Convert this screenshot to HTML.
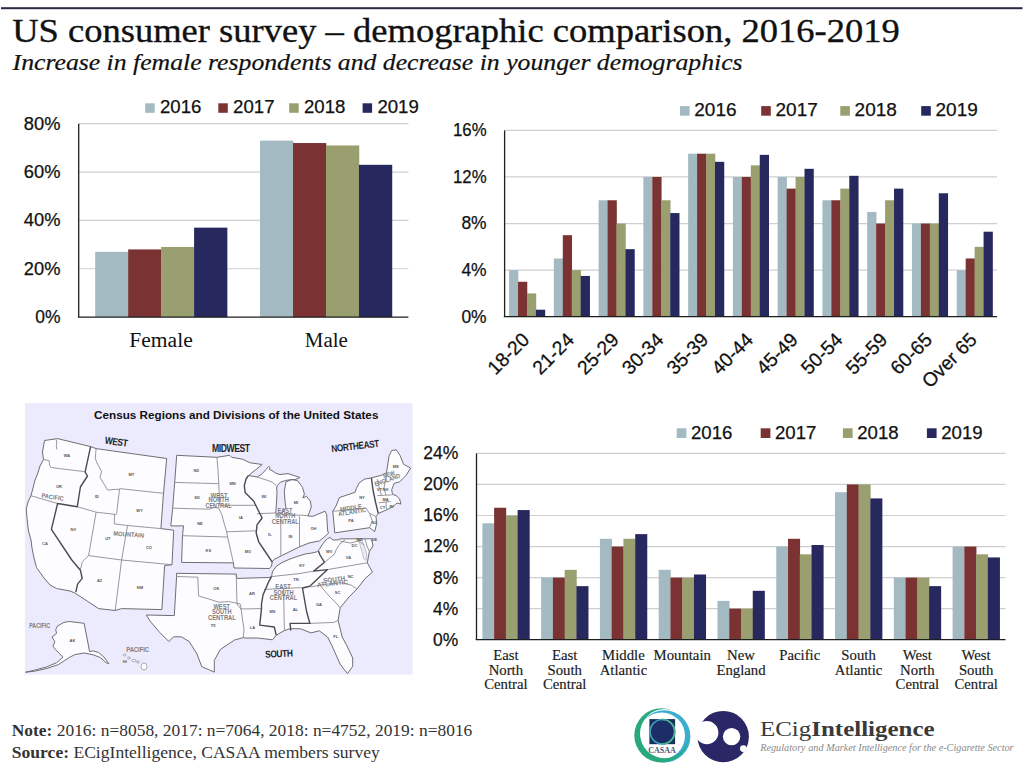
<!DOCTYPE html><html><head><meta charset="utf-8"><style>
html,body{margin:0;padding:0;background:#fff;}
#p{position:relative;width:1024px;height:765px;overflow:hidden;background:#fff;}
svg{position:absolute;left:0;top:0;}
</style></head><body><div id="p">
<svg width="1024" height="765" viewBox="0 0 1024 765">
<rect x="1" y="7.2" width="1021.5" height="2" fill="#2a2945"/>
<text x="12.2" y="42.4" font-family="'Liberation Serif', serif" font-size="34.2" text-anchor="start" fill="#111" font-weight="normal" font-style="normal" textLength="887.5" lengthAdjust="spacingAndGlyphs" stroke="#111" stroke-width="0.35">US consumer survey – demographic comparison, 2016-2019</text>
<text x="12.6" y="69.6" font-family="'Liberation Serif', serif" font-size="22.4" text-anchor="start" fill="#111" font-weight="normal" font-style="italic" textLength="730" lengthAdjust="spacingAndGlyphs" stroke="#111" stroke-width="0.2">Increase in female respondents and decrease in younger demographics</text>
<line x1="78.7" y1="268.75" x2="408.4" y2="268.75" stroke="#cfcfcf" stroke-width="1.2"/>
<line x1="78.7" y1="220.40" x2="408.4" y2="220.40" stroke="#cfcfcf" stroke-width="1.2"/>
<line x1="78.7" y1="172.05" x2="408.4" y2="172.05" stroke="#cfcfcf" stroke-width="1.2"/>
<line x1="78.7" y1="123.70" x2="408.4" y2="123.70" stroke="#cfcfcf" stroke-width="1.2"/>
<rect x="95.19" y="251.83" width="33.27" height="65.27" fill="#a3bac3"/>
<rect x="128.16" y="249.41" width="33.27" height="67.69" fill="#7b3232"/>
<rect x="161.12" y="246.99" width="33.27" height="70.11" fill="#999f6e"/>
<rect x="194.09" y="227.65" width="33.27" height="89.45" fill="#27285e"/>
<rect x="260.04" y="140.62" width="33.27" height="176.48" fill="#a3bac3"/>
<rect x="293.00" y="143.04" width="33.27" height="174.06" fill="#7b3232"/>
<rect x="325.98" y="145.46" width="33.27" height="171.64" fill="#999f6e"/>
<rect x="358.95" y="164.80" width="33.27" height="152.30" fill="#27285e"/>
<line x1="78.7" y1="123.7" x2="78.7" y2="317.1" stroke="#1e1e1e" stroke-width="1.3"/>
<line x1="77.9" y1="317.1" x2="408.4" y2="317.1" stroke="#1e1e1e" stroke-width="1.3"/>
<text x="60.4" y="323.0" font-family="'Liberation Sans', sans-serif" font-size="18.6" text-anchor="end" fill="#111" font-weight="normal" font-style="normal" textLength="25.2" lengthAdjust="spacingAndGlyphs" stroke="#111" stroke-width="0.25">0%</text>
<text x="60.4" y="274.65" font-family="'Liberation Sans', sans-serif" font-size="18.6" text-anchor="end" fill="#111" font-weight="normal" font-style="normal" textLength="36.6" lengthAdjust="spacingAndGlyphs" stroke="#111" stroke-width="0.25">20%</text>
<text x="60.4" y="226.3" font-family="'Liberation Sans', sans-serif" font-size="18.6" text-anchor="end" fill="#111" font-weight="normal" font-style="normal" textLength="36.6" lengthAdjust="spacingAndGlyphs" stroke="#111" stroke-width="0.25">40%</text>
<text x="60.4" y="177.95" font-family="'Liberation Sans', sans-serif" font-size="18.6" text-anchor="end" fill="#111" font-weight="normal" font-style="normal" textLength="36.6" lengthAdjust="spacingAndGlyphs" stroke="#111" stroke-width="0.25">60%</text>
<text x="60.4" y="129.6" font-family="'Liberation Sans', sans-serif" font-size="18.6" text-anchor="end" fill="#111" font-weight="normal" font-style="normal" textLength="36.6" lengthAdjust="spacingAndGlyphs" stroke="#111" stroke-width="0.25">80%</text>
<rect x="145.2" y="103.3" width="9.5" height="9.5" fill="#a3bac3"/>
<text x="160.0" y="113.4" font-family="'Liberation Sans', sans-serif" font-size="18.6" text-anchor="start" fill="#111" font-weight="normal" font-style="normal" textLength="41.4" lengthAdjust="spacingAndGlyphs" stroke="#111" stroke-width="0.25">2016</text>
<rect x="218.3" y="103.3" width="9.5" height="9.5" fill="#7b3232"/>
<text x="233.10000000000002" y="113.4" font-family="'Liberation Sans', sans-serif" font-size="18.6" text-anchor="start" fill="#111" font-weight="normal" font-style="normal" textLength="41.4" lengthAdjust="spacingAndGlyphs" stroke="#111" stroke-width="0.25">2017</text>
<rect x="289.2" y="103.3" width="9.5" height="9.5" fill="#999f6e"/>
<text x="304.0" y="113.4" font-family="'Liberation Sans', sans-serif" font-size="18.6" text-anchor="start" fill="#111" font-weight="normal" font-style="normal" textLength="41.4" lengthAdjust="spacingAndGlyphs" stroke="#111" stroke-width="0.25">2018</text>
<rect x="362.6" y="103.3" width="9.5" height="9.5" fill="#27285e"/>
<text x="377.40000000000003" y="113.4" font-family="'Liberation Sans', sans-serif" font-size="18.6" text-anchor="start" fill="#111" font-weight="normal" font-style="normal" textLength="41.4" lengthAdjust="spacingAndGlyphs" stroke="#111" stroke-width="0.25">2019</text>
<text x="161" y="346.7" font-family="'Liberation Serif', serif" font-size="20" text-anchor="middle" fill="#111" font-weight="normal" font-style="normal" textLength="63.4" lengthAdjust="spacingAndGlyphs" >Female</text>
<text x="326.3" y="346.7" font-family="'Liberation Serif', serif" font-size="20" text-anchor="middle" fill="#111" font-weight="normal" font-style="normal" textLength="43" lengthAdjust="spacingAndGlyphs" >Male</text>
<line x1="504.6" y1="270.12" x2="997" y2="270.12" stroke="#cfcfcf" stroke-width="1.2"/>
<line x1="504.6" y1="223.55" x2="997" y2="223.55" stroke="#cfcfcf" stroke-width="1.2"/>
<line x1="504.6" y1="176.97" x2="997" y2="176.97" stroke="#cfcfcf" stroke-width="1.2"/>
<line x1="504.6" y1="130.40" x2="997" y2="130.40" stroke="#cfcfcf" stroke-width="1.2"/>
<rect x="509.08" y="270.12" width="9.25" height="46.57" fill="#a3bac3"/>
<rect x="518.03" y="281.77" width="9.25" height="34.93" fill="#7b3232"/>
<rect x="526.98" y="293.41" width="9.25" height="23.29" fill="#999f6e"/>
<rect x="535.93" y="309.71" width="9.25" height="6.99" fill="#27285e"/>
<rect x="553.84" y="258.48" width="9.25" height="58.22" fill="#a3bac3"/>
<rect x="562.79" y="235.19" width="9.25" height="81.51" fill="#7b3232"/>
<rect x="571.75" y="270.12" width="9.25" height="46.57" fill="#999f6e"/>
<rect x="580.70" y="275.95" width="9.25" height="40.75" fill="#27285e"/>
<rect x="598.60" y="200.26" width="9.25" height="116.44" fill="#a3bac3"/>
<rect x="607.56" y="200.26" width="9.25" height="116.44" fill="#7b3232"/>
<rect x="616.51" y="223.55" width="9.25" height="93.15" fill="#999f6e"/>
<rect x="625.46" y="249.17" width="9.25" height="67.53" fill="#27285e"/>
<rect x="643.37" y="176.97" width="9.25" height="139.72" fill="#a3bac3"/>
<rect x="652.32" y="176.97" width="9.25" height="139.72" fill="#7b3232"/>
<rect x="661.27" y="200.26" width="9.25" height="116.44" fill="#999f6e"/>
<rect x="670.23" y="213.07" width="9.25" height="103.63" fill="#27285e"/>
<rect x="688.13" y="153.69" width="9.25" height="163.01" fill="#a3bac3"/>
<rect x="697.08" y="153.69" width="9.25" height="163.01" fill="#7b3232"/>
<rect x="706.04" y="153.69" width="9.25" height="163.01" fill="#999f6e"/>
<rect x="714.99" y="161.84" width="9.25" height="154.86" fill="#27285e"/>
<rect x="732.89" y="176.97" width="9.25" height="139.72" fill="#a3bac3"/>
<rect x="741.85" y="176.97" width="9.25" height="139.72" fill="#7b3232"/>
<rect x="750.80" y="165.33" width="9.25" height="151.37" fill="#999f6e"/>
<rect x="759.75" y="154.85" width="9.25" height="161.85" fill="#27285e"/>
<rect x="777.66" y="176.97" width="9.25" height="139.72" fill="#a3bac3"/>
<rect x="786.61" y="188.62" width="9.25" height="128.08" fill="#7b3232"/>
<rect x="795.56" y="176.97" width="9.25" height="139.72" fill="#999f6e"/>
<rect x="804.52" y="168.82" width="9.25" height="147.88" fill="#27285e"/>
<rect x="822.42" y="200.26" width="9.25" height="116.44" fill="#a3bac3"/>
<rect x="831.37" y="200.26" width="9.25" height="116.44" fill="#7b3232"/>
<rect x="840.33" y="188.62" width="9.25" height="128.08" fill="#999f6e"/>
<rect x="849.28" y="175.81" width="9.25" height="140.89" fill="#27285e"/>
<rect x="867.19" y="211.91" width="9.25" height="104.79" fill="#a3bac3"/>
<rect x="876.14" y="223.55" width="9.25" height="93.15" fill="#7b3232"/>
<rect x="885.09" y="200.26" width="9.25" height="116.44" fill="#999f6e"/>
<rect x="894.04" y="188.62" width="9.25" height="128.08" fill="#27285e"/>
<rect x="911.95" y="223.55" width="9.25" height="93.15" fill="#a3bac3"/>
<rect x="920.90" y="223.55" width="9.25" height="93.15" fill="#7b3232"/>
<rect x="929.85" y="223.55" width="9.25" height="93.15" fill="#999f6e"/>
<rect x="938.81" y="193.28" width="9.25" height="123.42" fill="#27285e"/>
<rect x="956.71" y="270.12" width="9.25" height="46.57" fill="#a3bac3"/>
<rect x="965.67" y="258.48" width="9.25" height="58.22" fill="#7b3232"/>
<rect x="974.62" y="246.84" width="9.25" height="69.86" fill="#999f6e"/>
<rect x="983.57" y="231.70" width="9.25" height="85.00" fill="#27285e"/>
<line x1="504.6" y1="130.4" x2="504.6" y2="316.7" stroke="#1e1e1e" stroke-width="1.3"/>
<line x1="503.8" y1="316.7" x2="997" y2="316.7" stroke="#1e1e1e" stroke-width="1.3"/>
<text x="486.6" y="322.6" font-family="'Liberation Sans', sans-serif" font-size="18.6" text-anchor="end" fill="#111" font-weight="normal" font-style="normal" textLength="25.2" lengthAdjust="spacingAndGlyphs" stroke="#111" stroke-width="0.25">0%</text>
<text x="486.6" y="276.02" font-family="'Liberation Sans', sans-serif" font-size="18.6" text-anchor="end" fill="#111" font-weight="normal" font-style="normal" textLength="25.2" lengthAdjust="spacingAndGlyphs" stroke="#111" stroke-width="0.25">4%</text>
<text x="486.6" y="229.45" font-family="'Liberation Sans', sans-serif" font-size="18.6" text-anchor="end" fill="#111" font-weight="normal" font-style="normal" textLength="25.2" lengthAdjust="spacingAndGlyphs" stroke="#111" stroke-width="0.25">8%</text>
<text x="486.6" y="182.88" font-family="'Liberation Sans', sans-serif" font-size="18.6" text-anchor="end" fill="#111" font-weight="normal" font-style="normal" textLength="33.6" lengthAdjust="spacingAndGlyphs" stroke="#111" stroke-width="0.25">12%</text>
<text x="486.6" y="136.3" font-family="'Liberation Sans', sans-serif" font-size="18.6" text-anchor="end" fill="#111" font-weight="normal" font-style="normal" textLength="33.6" lengthAdjust="spacingAndGlyphs" stroke="#111" stroke-width="0.25">16%</text>
<rect x="680" y="106.1" width="9.6" height="9.6" fill="#a3bac3"/>
<text x="694.3" y="116.1" font-family="'Liberation Sans', sans-serif" font-size="18.6" text-anchor="start" fill="#111" font-weight="normal" font-style="normal" textLength="42.3" lengthAdjust="spacingAndGlyphs" stroke="#111" stroke-width="0.25">2016</text>
<rect x="761.2" y="106.1" width="9.6" height="9.6" fill="#7b3232"/>
<text x="775.5" y="116.1" font-family="'Liberation Sans', sans-serif" font-size="18.6" text-anchor="start" fill="#111" font-weight="normal" font-style="normal" textLength="42.3" lengthAdjust="spacingAndGlyphs" stroke="#111" stroke-width="0.25">2017</text>
<rect x="840.3" y="106.1" width="9.6" height="9.6" fill="#999f6e"/>
<text x="854.5999999999999" y="116.1" font-family="'Liberation Sans', sans-serif" font-size="18.6" text-anchor="start" fill="#111" font-weight="normal" font-style="normal" textLength="42.3" lengthAdjust="spacingAndGlyphs" stroke="#111" stroke-width="0.25">2018</text>
<rect x="921.2" y="106.1" width="9.6" height="9.6" fill="#27285e"/>
<text x="935.5" y="116.1" font-family="'Liberation Sans', sans-serif" font-size="18.6" text-anchor="start" fill="#111" font-weight="normal" font-style="normal" textLength="42.3" lengthAdjust="spacingAndGlyphs" stroke="#111" stroke-width="0.25">2019</text>
<text transform="translate(530.48,341) rotate(-45)" x="0" y="0" font-family="'Liberation Sans', sans-serif" font-size="19.5" text-anchor="end" fill="#111" textLength="49.3" lengthAdjust="spacingAndGlyphs" stroke="#111" stroke-width="0.25">18-20</text>
<text transform="translate(575.25,341) rotate(-45)" x="0" y="0" font-family="'Liberation Sans', sans-serif" font-size="19.5" text-anchor="end" fill="#111" textLength="49.3" lengthAdjust="spacingAndGlyphs" stroke="#111" stroke-width="0.25">21-24</text>
<text transform="translate(620.01,341) rotate(-45)" x="0" y="0" font-family="'Liberation Sans', sans-serif" font-size="19.5" text-anchor="end" fill="#111" textLength="49.3" lengthAdjust="spacingAndGlyphs" stroke="#111" stroke-width="0.25">25-29</text>
<text transform="translate(664.77,341) rotate(-45)" x="0" y="0" font-family="'Liberation Sans', sans-serif" font-size="19.5" text-anchor="end" fill="#111" textLength="49.3" lengthAdjust="spacingAndGlyphs" stroke="#111" stroke-width="0.25">30-34</text>
<text transform="translate(709.54,341) rotate(-45)" x="0" y="0" font-family="'Liberation Sans', sans-serif" font-size="19.5" text-anchor="end" fill="#111" textLength="49.3" lengthAdjust="spacingAndGlyphs" stroke="#111" stroke-width="0.25">35-39</text>
<text transform="translate(754.30,341) rotate(-45)" x="0" y="0" font-family="'Liberation Sans', sans-serif" font-size="19.5" text-anchor="end" fill="#111" textLength="49.3" lengthAdjust="spacingAndGlyphs" stroke="#111" stroke-width="0.25">40-44</text>
<text transform="translate(799.06,341) rotate(-45)" x="0" y="0" font-family="'Liberation Sans', sans-serif" font-size="19.5" text-anchor="end" fill="#111" textLength="49.3" lengthAdjust="spacingAndGlyphs" stroke="#111" stroke-width="0.25">45-49</text>
<text transform="translate(843.83,341) rotate(-45)" x="0" y="0" font-family="'Liberation Sans', sans-serif" font-size="19.5" text-anchor="end" fill="#111" textLength="49.3" lengthAdjust="spacingAndGlyphs" stroke="#111" stroke-width="0.25">50-54</text>
<text transform="translate(888.59,341) rotate(-45)" x="0" y="0" font-family="'Liberation Sans', sans-serif" font-size="19.5" text-anchor="end" fill="#111" textLength="49.3" lengthAdjust="spacingAndGlyphs" stroke="#111" stroke-width="0.25">55-59</text>
<text transform="translate(933.35,341) rotate(-45)" x="0" y="0" font-family="'Liberation Sans', sans-serif" font-size="19.5" text-anchor="end" fill="#111" textLength="49.3" lengthAdjust="spacingAndGlyphs" stroke="#111" stroke-width="0.25">60-65</text>
<text transform="translate(978.12,341) rotate(-45)" x="0" y="0" font-family="'Liberation Sans', sans-serif" font-size="19.5" text-anchor="end" fill="#111" textLength="68" lengthAdjust="spacingAndGlyphs" stroke="#111" stroke-width="0.25">Over 65</text>
<line x1="476.5" y1="608.65" x2="1005.5" y2="608.65" stroke="#cfcfcf" stroke-width="1.2"/>
<line x1="476.5" y1="577.60" x2="1005.5" y2="577.60" stroke="#cfcfcf" stroke-width="1.2"/>
<line x1="476.5" y1="546.55" x2="1005.5" y2="546.55" stroke="#cfcfcf" stroke-width="1.2"/>
<line x1="476.5" y1="515.50" x2="1005.5" y2="515.50" stroke="#cfcfcf" stroke-width="1.2"/>
<line x1="476.5" y1="484.45" x2="1005.5" y2="484.45" stroke="#cfcfcf" stroke-width="1.2"/>
<line x1="476.5" y1="453.40" x2="1005.5" y2="453.40" stroke="#cfcfcf" stroke-width="1.2"/>
<rect x="482.38" y="523.26" width="12.06" height="116.44" fill="#a3bac3"/>
<rect x="494.13" y="507.74" width="12.06" height="131.96" fill="#7b3232"/>
<rect x="505.89" y="515.50" width="12.06" height="124.20" fill="#999f6e"/>
<rect x="517.64" y="510.07" width="12.06" height="129.63" fill="#27285e"/>
<rect x="541.16" y="577.60" width="12.06" height="62.10" fill="#a3bac3"/>
<rect x="552.91" y="577.60" width="12.06" height="62.10" fill="#7b3232"/>
<rect x="564.67" y="569.84" width="12.06" height="69.86" fill="#999f6e"/>
<rect x="576.42" y="586.14" width="12.06" height="53.56" fill="#27285e"/>
<rect x="599.93" y="538.79" width="12.06" height="100.91" fill="#a3bac3"/>
<rect x="611.69" y="546.55" width="12.06" height="93.15" fill="#7b3232"/>
<rect x="623.44" y="538.79" width="12.06" height="100.91" fill="#999f6e"/>
<rect x="635.20" y="534.13" width="12.06" height="105.57" fill="#27285e"/>
<rect x="658.71" y="569.84" width="12.06" height="69.86" fill="#a3bac3"/>
<rect x="670.47" y="577.60" width="12.06" height="62.10" fill="#7b3232"/>
<rect x="682.22" y="577.60" width="12.06" height="62.10" fill="#999f6e"/>
<rect x="693.98" y="574.50" width="12.06" height="65.21" fill="#27285e"/>
<rect x="717.49" y="600.89" width="12.06" height="38.81" fill="#a3bac3"/>
<rect x="729.24" y="608.65" width="12.06" height="31.05" fill="#7b3232"/>
<rect x="741.00" y="608.65" width="12.06" height="31.05" fill="#999f6e"/>
<rect x="752.76" y="590.80" width="12.06" height="48.90" fill="#27285e"/>
<rect x="776.27" y="546.55" width="12.06" height="93.15" fill="#a3bac3"/>
<rect x="788.02" y="538.79" width="12.06" height="100.91" fill="#7b3232"/>
<rect x="799.78" y="554.31" width="12.06" height="85.39" fill="#999f6e"/>
<rect x="811.53" y="545.00" width="12.06" height="94.70" fill="#27285e"/>
<rect x="835.04" y="492.21" width="12.06" height="147.49" fill="#a3bac3"/>
<rect x="846.80" y="484.45" width="12.06" height="155.25" fill="#7b3232"/>
<rect x="858.56" y="484.45" width="12.06" height="155.25" fill="#999f6e"/>
<rect x="870.31" y="498.42" width="12.06" height="141.28" fill="#27285e"/>
<rect x="893.82" y="577.60" width="12.06" height="62.10" fill="#a3bac3"/>
<rect x="905.58" y="577.60" width="12.06" height="62.10" fill="#7b3232"/>
<rect x="917.33" y="577.60" width="12.06" height="62.10" fill="#999f6e"/>
<rect x="929.09" y="586.14" width="12.06" height="53.56" fill="#27285e"/>
<rect x="952.60" y="546.55" width="12.06" height="93.15" fill="#a3bac3"/>
<rect x="964.36" y="546.55" width="12.06" height="93.15" fill="#7b3232"/>
<rect x="976.11" y="554.31" width="12.06" height="85.39" fill="#999f6e"/>
<rect x="987.87" y="557.42" width="12.06" height="82.28" fill="#27285e"/>
<line x1="476.5" y1="453.4" x2="476.5" y2="639.7" stroke="#1e1e1e" stroke-width="1.3"/>
<line x1="475.7" y1="639.7" x2="1005.5" y2="639.7" stroke="#1e1e1e" stroke-width="1.3"/>
<text x="458.3" y="645.6" font-family="'Liberation Sans', sans-serif" font-size="18.6" text-anchor="end" fill="#111" font-weight="normal" font-style="normal" textLength="25.2" lengthAdjust="spacingAndGlyphs" stroke="#111" stroke-width="0.25">0%</text>
<text x="458.3" y="614.55" font-family="'Liberation Sans', sans-serif" font-size="18.6" text-anchor="end" fill="#111" font-weight="normal" font-style="normal" textLength="25.2" lengthAdjust="spacingAndGlyphs" stroke="#111" stroke-width="0.25">4%</text>
<text x="458.3" y="583.5" font-family="'Liberation Sans', sans-serif" font-size="18.6" text-anchor="end" fill="#111" font-weight="normal" font-style="normal" textLength="25.2" lengthAdjust="spacingAndGlyphs" stroke="#111" stroke-width="0.25">8%</text>
<text x="458.3" y="552.45" font-family="'Liberation Sans', sans-serif" font-size="18.6" text-anchor="end" fill="#111" font-weight="normal" font-style="normal" textLength="35.1" lengthAdjust="spacingAndGlyphs" stroke="#111" stroke-width="0.25">12%</text>
<text x="458.3" y="521.4" font-family="'Liberation Sans', sans-serif" font-size="18.6" text-anchor="end" fill="#111" font-weight="normal" font-style="normal" textLength="35.1" lengthAdjust="spacingAndGlyphs" stroke="#111" stroke-width="0.25">16%</text>
<text x="458.3" y="490.35" font-family="'Liberation Sans', sans-serif" font-size="18.6" text-anchor="end" fill="#111" font-weight="normal" font-style="normal" textLength="35.1" lengthAdjust="spacingAndGlyphs" stroke="#111" stroke-width="0.25">20%</text>
<text x="458.3" y="459.3" font-family="'Liberation Sans', sans-serif" font-size="18.6" text-anchor="end" fill="#111" font-weight="normal" font-style="normal" textLength="35.1" lengthAdjust="spacingAndGlyphs" stroke="#111" stroke-width="0.25">24%</text>
<rect x="676.7" y="428.3" width="9.7" height="9.7" fill="#a3bac3"/>
<text x="691.0" y="438.8" font-family="'Liberation Sans', sans-serif" font-size="18.6" text-anchor="start" fill="#111" font-weight="normal" font-style="normal" textLength="41.4" lengthAdjust="spacingAndGlyphs" stroke="#111" stroke-width="0.25">2016</text>
<rect x="760.7" y="428.3" width="9.7" height="9.7" fill="#7b3232"/>
<text x="775.0" y="438.8" font-family="'Liberation Sans', sans-serif" font-size="18.6" text-anchor="start" fill="#111" font-weight="normal" font-style="normal" textLength="41.4" lengthAdjust="spacingAndGlyphs" stroke="#111" stroke-width="0.25">2017</text>
<rect x="842.9" y="428.3" width="9.7" height="9.7" fill="#999f6e"/>
<text x="857.1999999999999" y="438.8" font-family="'Liberation Sans', sans-serif" font-size="18.6" text-anchor="start" fill="#111" font-weight="normal" font-style="normal" textLength="41.4" lengthAdjust="spacingAndGlyphs" stroke="#111" stroke-width="0.25">2018</text>
<rect x="926.9" y="428.3" width="9.7" height="9.7" fill="#27285e"/>
<text x="941.1999999999999" y="438.8" font-family="'Liberation Sans', sans-serif" font-size="18.6" text-anchor="start" fill="#111" font-weight="normal" font-style="normal" textLength="41.4" lengthAdjust="spacingAndGlyphs" stroke="#111" stroke-width="0.25">2019</text>
<text x="505.89" y="659.9" font-family="'Liberation Serif', serif" font-size="13.6" text-anchor="middle" fill="#1a1a1a" font-weight="normal" font-style="normal" textLength="25.4" lengthAdjust="spacingAndGlyphs" stroke="#1a1a1a" stroke-width="0.15">East</text>
<text x="505.89" y="674.55" font-family="'Liberation Serif', serif" font-size="13.6" text-anchor="middle" fill="#1a1a1a" font-weight="normal" font-style="normal" textLength="34.4" lengthAdjust="spacingAndGlyphs" stroke="#1a1a1a" stroke-width="0.15">North</text>
<text x="505.89" y="689.2" font-family="'Liberation Serif', serif" font-size="13.6" text-anchor="middle" fill="#1a1a1a" font-weight="normal" font-style="normal" textLength="43.4" lengthAdjust="spacingAndGlyphs" stroke="#1a1a1a" stroke-width="0.15">Central</text>
<text x="564.67" y="659.9" font-family="'Liberation Serif', serif" font-size="13.6" text-anchor="middle" fill="#1a1a1a" font-weight="normal" font-style="normal" textLength="25.4" lengthAdjust="spacingAndGlyphs" stroke="#1a1a1a" stroke-width="0.15">East</text>
<text x="564.67" y="674.55" font-family="'Liberation Serif', serif" font-size="13.6" text-anchor="middle" fill="#1a1a1a" font-weight="normal" font-style="normal" textLength="34.4" lengthAdjust="spacingAndGlyphs" stroke="#1a1a1a" stroke-width="0.15">South</text>
<text x="564.67" y="689.2" font-family="'Liberation Serif', serif" font-size="13.6" text-anchor="middle" fill="#1a1a1a" font-weight="normal" font-style="normal" textLength="43.4" lengthAdjust="spacingAndGlyphs" stroke="#1a1a1a" stroke-width="0.15">Central</text>
<text x="623.44" y="659.9" font-family="'Liberation Serif', serif" font-size="13.6" text-anchor="middle" fill="#1a1a1a" font-weight="normal" font-style="normal" textLength="42.6" lengthAdjust="spacingAndGlyphs" stroke="#1a1a1a" stroke-width="0.15">Middle</text>
<text x="623.44" y="674.55" font-family="'Liberation Serif', serif" font-size="13.6" text-anchor="middle" fill="#1a1a1a" font-weight="normal" font-style="normal" textLength="47.5" lengthAdjust="spacingAndGlyphs" stroke="#1a1a1a" stroke-width="0.15">Atlantic</text>
<text x="682.22" y="659.9" font-family="'Liberation Serif', serif" font-size="13.6" text-anchor="middle" fill="#1a1a1a" font-weight="normal" font-style="normal" textLength="57.4" lengthAdjust="spacingAndGlyphs" stroke="#1a1a1a" stroke-width="0.15">Mountain</text>
<text x="741.0" y="659.9" font-family="'Liberation Serif', serif" font-size="13.6" text-anchor="middle" fill="#1a1a1a" font-weight="normal" font-style="normal" textLength="27.9" lengthAdjust="spacingAndGlyphs" stroke="#1a1a1a" stroke-width="0.15">New</text>
<text x="741.0" y="674.55" font-family="'Liberation Serif', serif" font-size="13.6" text-anchor="middle" fill="#1a1a1a" font-weight="normal" font-style="normal" textLength="49.2" lengthAdjust="spacingAndGlyphs" stroke="#1a1a1a" stroke-width="0.15">England</text>
<text x="799.78" y="659.9" font-family="'Liberation Serif', serif" font-size="13.6" text-anchor="middle" fill="#1a1a1a" font-weight="normal" font-style="normal" textLength="40.9" lengthAdjust="spacingAndGlyphs" stroke="#1a1a1a" stroke-width="0.15">Pacific</text>
<text x="858.56" y="659.9" font-family="'Liberation Serif', serif" font-size="13.6" text-anchor="middle" fill="#1a1a1a" font-weight="normal" font-style="normal" textLength="34.4" lengthAdjust="spacingAndGlyphs" stroke="#1a1a1a" stroke-width="0.15">South</text>
<text x="858.56" y="674.55" font-family="'Liberation Serif', serif" font-size="13.6" text-anchor="middle" fill="#1a1a1a" font-weight="normal" font-style="normal" textLength="47.5" lengthAdjust="spacingAndGlyphs" stroke="#1a1a1a" stroke-width="0.15">Atlantic</text>
<text x="917.33" y="659.9" font-family="'Liberation Serif', serif" font-size="13.6" text-anchor="middle" fill="#1a1a1a" font-weight="normal" font-style="normal" textLength="29.1" lengthAdjust="spacingAndGlyphs" stroke="#1a1a1a" stroke-width="0.15">West</text>
<text x="917.33" y="674.55" font-family="'Liberation Serif', serif" font-size="13.6" text-anchor="middle" fill="#1a1a1a" font-weight="normal" font-style="normal" textLength="34.4" lengthAdjust="spacingAndGlyphs" stroke="#1a1a1a" stroke-width="0.15">North</text>
<text x="917.33" y="689.2" font-family="'Liberation Serif', serif" font-size="13.6" text-anchor="middle" fill="#1a1a1a" font-weight="normal" font-style="normal" textLength="43.4" lengthAdjust="spacingAndGlyphs" stroke="#1a1a1a" stroke-width="0.15">Central</text>
<text x="976.11" y="659.9" font-family="'Liberation Serif', serif" font-size="13.6" text-anchor="middle" fill="#1a1a1a" font-weight="normal" font-style="normal" textLength="29.1" lengthAdjust="spacingAndGlyphs" stroke="#1a1a1a" stroke-width="0.15">West</text>
<text x="976.11" y="674.55" font-family="'Liberation Serif', serif" font-size="13.6" text-anchor="middle" fill="#1a1a1a" font-weight="normal" font-style="normal" textLength="34.4" lengthAdjust="spacingAndGlyphs" stroke="#1a1a1a" stroke-width="0.15">South</text>
<text x="976.11" y="689.2" font-family="'Liberation Serif', serif" font-size="13.6" text-anchor="middle" fill="#1a1a1a" font-weight="normal" font-style="normal" textLength="43.4" lengthAdjust="spacingAndGlyphs" stroke="#1a1a1a" stroke-width="0.15">Central</text>
<rect x="24.9" y="403.2" width="387.6" height="271.4" fill="#ecebfd"/>
<polygon points="44.6,440.5 57.5,438.6 90.6,446.6 96.1,448.6 166.7,458.5 163.5,493.3 160.9,528.6 173.7,530.2 172,564.7 164.6,565.6 161.9,609.6 121.6,608.6 115.2,610.5 98.7,608.6 74.9,593 70,591 56.6,588.5 50,585 44,578 39,571 36.5,567.5 34,558 32,548 31,540 28.5,531 27,518.4 26.3,509 28,502 31,495.7 33,488 35,480 37.5,474 40,466 43.5,459.6 42.5,452 43.5,446" fill="#fdfdff" stroke="#6e6e74" stroke-width="1.0" stroke-linejoin="round"/>
<polygon points="176.7,455.3 216.9,457.3 229.6,455.3 231.6,457.3 242.4,459.2 250.2,462.8 262.1,464.5 248.5,475.5 257.4,477 262.1,473.8 266,469.5 268.5,466.5 270,467.5 269.5,469.5 272,470.5 276,473.3 280,474.5 288,473.6 294,475.5 300,477.5 296,479.3 290,479.8 285.8,480.4 280.5,482.2 277.5,485 276.6,488 277,492.2 276.6,501 275.7,512.9 278,514.2 281.7,513.8 285.9,507.8 285,501 284.3,491.2 286,481.8 291.7,479.6 297.5,480.6 302.5,487.3 304.4,494.1 302.8,498 306.4,496.3 310.3,501 311.3,506.9 309.3,512.7 307.8,516 313,516.3 325,511.2 326.7,514.6 327.6,530 328.4,533.3 325.8,535.7 319.5,540.9 309,543 298.6,547.2 290.2,551.4 281.8,555.6 274,559.5 272.3,561.5 271.5,566 269.5,568.5 234,568 233.5,562.9 181.6,562.4 182.5,535.7 183.5,525.9 170.8,525.9 172.7,508.2 174.7,482.4" fill="#fdfdff" stroke="#6e6e74" stroke-width="1.0" stroke-linejoin="round"/>
<polygon points="332.8,511.3 336,506 339.4,497.6 347,495 355.1,492.3 356.4,488.4 359,483.2 364.2,479.2 371.4,477.9 381.3,475.3 386.5,472.7 389.1,455.7 391.7,450.5 396.3,449.8 400.2,455.7 403.5,464.2 410.7,468.1 406.1,475.3 399.6,481.9 394.3,483.2 391.7,489.7 392.5,494.5 396,495.5 399.6,498.9 400.9,504.1 397,503 394.3,505.4 390.4,508 384,511 378.6,513.3 376,516.5 376.7,523.7 374.7,531.6 369.5,527.7 334.8,532.9" fill="#fdfdff" stroke="#6e6e74" stroke-width="1.0" stroke-linejoin="round"/>
<polygon points="176.6,573.3 236.2,574.1 236.8,578.4 268.9,577.5 271.6,576.6 272.3,572 276,566.5 282,562.5 290,559 298,556.2 306,553.8 312,553 317,551.8 319.5,549 322,545 325,541 327.6,538.5 330,537.5 333,540 338,539.9 340.2,538.8 371.5,538.8 373,546 369.4,551.3 367.3,562.8 372.5,572.2 365.2,578.5 356.9,589 349,597 340.2,607.8 338.1,620.3 342.2,637 347,646 352.7,658 352.7,666.3 347.5,673.6 343,668 340.2,664.2 331.8,645.4 327.6,637 319.3,630.8 310.9,632.9 300.4,628.7 290,628.7 284.4,630.6 276.2,635.2 272.5,639.8 257.9,638 245,638 243.3,637.6 234.6,640 220.5,649.3 214.3,660.3 214.3,672.1 201.7,666.6 197,654 189.2,641.5 181.3,636.8 173.5,636.8 168.8,641.5 159.4,632.1 150,621 146.3,615 174.3,615.6 176.6,576.5" fill="#fdfdff" stroke="#6e6e74" stroke-width="1.0" stroke-linejoin="round"/>
<polygon points="57.5,626 63.9,622.4 69.4,621.5 84.1,623.3 86.8,637 89.6,651.7 93.2,650.8 98.7,652.6 104.2,657.2 108.8,663.6 106,662.7 100.5,657.6 93.2,654.8 84.1,653 74.9,654.6 69.4,657.4 63.9,661 58.4,664.6 47.5,668.3 34.6,671.2 25.5,672.2 34.6,670.2 47,666.8 56.6,662.7 63,657.2 59.4,653.5 55.7,649.8 53,646.2 54.8,641.6 52,637 56.6,633.4 55.7,629.7" fill="#fdfdff" stroke="#6e6e74" stroke-width="1.0" stroke-linejoin="round"/>
<ellipse cx="124.5" cy="655" rx="1.5" ry="1" fill="#fdfdff" stroke="#7a7a80" stroke-width="0.6"/>
<ellipse cx="129" cy="658" rx="1.5" ry="1" fill="#fdfdff" stroke="#7a7a80" stroke-width="0.6"/>
<ellipse cx="134" cy="660.5" rx="2" ry="1.2" fill="#fdfdff" stroke="#7a7a80" stroke-width="0.6"/>
<ellipse cx="138" cy="662" rx="1.5" ry="1" fill="#fdfdff" stroke="#7a7a80" stroke-width="0.6"/>
<ellipse cx="144" cy="666.5" rx="3" ry="3.5" fill="#fdfdff" stroke="#7a7a80" stroke-width="0.6"/>
<polygon points="358.5,539.5 361.5,539.2 363.5,544 365.5,550 367,556 366.2,560.5 364,559 362.5,554 361,548 359.5,543" fill="#ecebfd" stroke="#8a8a90" stroke-width="0.5"/>
<polyline points="43.9,459.6 49.1,460.6 49.6,465.3 51.2,467.4 58.5,468.5 71.1,470 84.7,471.6" fill="none" stroke="#7e7e84" stroke-width="0.8" stroke-linejoin="round"/>
<polyline points="56.2,439.5 56.8,443 56.3,446 57,449.6" fill="none" stroke="#7e7e84" stroke-width="0.8" stroke-linejoin="round"/>
<polyline points="31,495.7 57.6,503.5" fill="none" stroke="#7e7e84" stroke-width="0.8" stroke-linejoin="round"/>
<polyline points="96.1,448.6 95.3,458.8 98,465 101.6,471.4 100,477.6 104,484 107.8,490.2 113,489.5 119.6,489.2" fill="none" stroke="#7e7e84" stroke-width="0.8" stroke-linejoin="round"/>
<polyline points="119.6,489.2 116.6,513.5" fill="none" stroke="#7e7e84" stroke-width="0.8" stroke-linejoin="round"/>
<polyline points="77.3,506.7 96.1,512.2 116.6,514.5" fill="none" stroke="#7e7e84" stroke-width="0.8" stroke-linejoin="round"/>
<polyline points="119.6,488.6 163.5,493.3" fill="none" stroke="#7e7e84" stroke-width="0.8" stroke-linejoin="round"/>
<polyline points="114.4,514.5 114.4,523.9 127.5,525.5 160.9,528.6" fill="none" stroke="#7e7e84" stroke-width="0.8" stroke-linejoin="round"/>
<polyline points="96.1,512.2 88.6,555.6" fill="none" stroke="#7e7e84" stroke-width="0.8" stroke-linejoin="round"/>
<polyline points="127.5,525.5 121.6,560" fill="none" stroke="#7e7e84" stroke-width="0.8" stroke-linejoin="round"/>
<polyline points="88.6,555.6 121.6,560 172,564.7" fill="none" stroke="#7e7e84" stroke-width="0.8" stroke-linejoin="round"/>
<polyline points="121.6,560 115.2,610.5" fill="none" stroke="#7e7e84" stroke-width="0.8" stroke-linejoin="round"/>
<polyline points="88.6,555.6 82.2,562 80.4,570" fill="none" stroke="#7e7e84" stroke-width="0.8" stroke-linejoin="round"/>
<polyline points="174.7,482.4 218.8,483.7" fill="none" stroke="#7e7e84" stroke-width="0.8" stroke-linejoin="round"/>
<polyline points="172.7,508.2 209,509.2 214,507.5 218.8,508.2" fill="none" stroke="#7e7e84" stroke-width="0.8" stroke-linejoin="round"/>
<polyline points="182.5,535.7 227.6,537" fill="none" stroke="#7e7e84" stroke-width="0.8" stroke-linejoin="round"/>
<polyline points="216.9,457.3 218,470 218.8,483.7 219.8,505.3" fill="none" stroke="#7e7e84" stroke-width="0.8" stroke-linejoin="round"/>
<polyline points="219.8,505.3 256,505.3" fill="none" stroke="#7e7e84" stroke-width="0.8" stroke-linejoin="round"/>
<polyline points="218.8,508.2 222,515 224,523 226.7,531.8 227.6,537 233.5,563.1" fill="none" stroke="#7e7e84" stroke-width="0.8" stroke-linejoin="round"/>
<polyline points="226.7,531.8 256,530.8" fill="none" stroke="#7e7e84" stroke-width="0.8" stroke-linejoin="round"/>
<polyline points="257,513.8 275.7,512.9" fill="none" stroke="#7e7e84" stroke-width="0.8" stroke-linejoin="round"/>
<polyline points="257.4,477 263,479 268,480.5 272,482 276,485.5" fill="none" stroke="#7e7e84" stroke-width="0.8" stroke-linejoin="round"/>
<polyline points="280.8,516.3 280.8,555.5" fill="none" stroke="#7e7e84" stroke-width="0.8" stroke-linejoin="round"/>
<polyline points="299.5,516.3 299.5,547" fill="none" stroke="#7e7e84" stroke-width="0.8" stroke-linejoin="round"/>
<polyline points="281.7,514.5 308,515.5" fill="none" stroke="#7e7e84" stroke-width="0.8" stroke-linejoin="round"/>
<polyline points="332.8,511.3 365.8,508 369.5,513.3 372.3,521 369.5,527.7" fill="none" stroke="#7e7e84" stroke-width="0.8" stroke-linejoin="round"/>
<polyline points="369.5,513.3 376,516.5" fill="none" stroke="#7e7e84" stroke-width="0.8" stroke-linejoin="round"/>
<polyline points="377.3,479.2 379,487 381.3,494.9" fill="none" stroke="#7e7e84" stroke-width="0.8" stroke-linejoin="round"/>
<polyline points="386.5,472.7 385.5,480 384,488 386,494.9" fill="none" stroke="#7e7e84" stroke-width="0.8" stroke-linejoin="round"/>
<polyline points="377.3,495.6 391.7,494.9" fill="none" stroke="#7e7e84" stroke-width="0.8" stroke-linejoin="round"/>
<polyline points="378.6,502.8 390.4,501.5" fill="none" stroke="#7e7e84" stroke-width="0.8" stroke-linejoin="round"/>
<polyline points="386,502 386.5,509.5" fill="none" stroke="#7e7e84" stroke-width="0.8" stroke-linejoin="round"/>
<polyline points="176.6,576.5 197.8,577.2" fill="none" stroke="#7e7e84" stroke-width="0.8" stroke-linejoin="round"/>
<polyline points="197.8,577.2 198.6,596 209.6,599.2 219,602.3 228.4,601.5 240.1,603.9" fill="none" stroke="#7e7e84" stroke-width="0.8" stroke-linejoin="round"/>
<polyline points="236.2,574.1 237,603.9 240.9,609" fill="none" stroke="#7e7e84" stroke-width="0.8" stroke-linejoin="round"/>
<polyline points="240.1,603.9 240.9,607 242.5,619.6 244,629 243.3,637.6" fill="none" stroke="#7e7e84" stroke-width="0.8" stroke-linejoin="round"/>
<polyline points="240.9,609 261.5,608.6" fill="none" stroke="#7e7e84" stroke-width="0.8" stroke-linejoin="round"/>
<polyline points="271.6,576.6 300,573.5 313.7,571.1" fill="none" stroke="#7e7e84" stroke-width="0.8" stroke-linejoin="round"/>
<polyline points="264,589.4 301.8,587.6" fill="none" stroke="#7e7e84" stroke-width="0.8" stroke-linejoin="round"/>
<polyline points="283.5,588.5 284.4,630.6" fill="none" stroke="#7e7e84" stroke-width="0.8" stroke-linejoin="round"/>
<polyline points="324.5,562.3 329.4,558.3 334.3,554.4 336.3,549.5 339.2,544.6 345.1,539.7" fill="none" stroke="#7e7e84" stroke-width="0.8" stroke-linejoin="round"/>
<polyline points="327.5,569.6 367.3,562.8" fill="none" stroke="#7e7e84" stroke-width="0.8" stroke-linejoin="round"/>
<polyline points="340.2,541 350,543 359,541 364,545" fill="none" stroke="#7e7e84" stroke-width="0.8" stroke-linejoin="round"/>
<polyline points="365,539 367,546 369.4,551.3" fill="none" stroke="#7e7e84" stroke-width="0.8" stroke-linejoin="round"/>
<polyline points="310.9,587 321.3,584.8 340.2,582.7 350.6,584.8 356.9,589" fill="none" stroke="#7e7e84" stroke-width="0.8" stroke-linejoin="round"/>
<polyline points="321.3,586.9 330,597 336,603 340.2,607.8" fill="none" stroke="#7e7e84" stroke-width="0.8" stroke-linejoin="round"/>
<polyline points="309.9,623.4 333.9,622.4 338.1,620.3" fill="none" stroke="#7e7e84" stroke-width="0.8" stroke-linejoin="round"/>
<polyline points="90.6,446.6 85.1,472.2 87.5,476 80.4,487 77.3,506.7 57.6,503.5 51.4,529.4 71.8,560 80.4,570.2 82.2,578.4 77.7,583.9 75.8,592.2" fill="none" stroke="#4a4a50" stroke-width="1.4" stroke-linejoin="round"/>
<polyline points="248.5,475.5 246,479 244.3,485.7 245.1,492.5 253.6,501 257,507.8 262.1,518 257,524.8 256.2,533.3 258.7,541.8 265.5,552 272.3,562.2" fill="none" stroke="#4a4a50" stroke-width="1.4" stroke-linejoin="round"/>
<polyline points="371.4,477.9 373,490 375.5,502 378.3,513.5" fill="none" stroke="#4a4a50" stroke-width="1.4" stroke-linejoin="round"/>
<polyline points="271.6,576.6 268.9,581.2 263,595 261.5,604 261.5,608.6 259.7,625.1 274.3,627 276.2,635.2" fill="none" stroke="#4a4a50" stroke-width="1.4" stroke-linejoin="round"/>
<polyline points="318.5,551 320,555 324.5,562.3 313.7,571.1 327.5,569.6 309.8,586.3 302.5,588 306.7,612 309.9,623.4 290,623.4 290.8,630.6" fill="none" stroke="#4a4a50" stroke-width="1.4" stroke-linejoin="round"/>
<text x="94" y="418.9" font-family="'Liberation Sans', sans-serif" font-size="11.2" text-anchor="start" fill="#111" font-weight="bold" font-style="normal" textLength="284.4" lengthAdjust="spacingAndGlyphs" >Census Regions and Divisions of the United States</text>
<text x="104.6" y="443.6" font-family="'Liberation Sans', sans-serif" font-size="10" text-anchor="start" fill="#222" font-weight="bold" font-style="normal" textLength="22.5" lengthAdjust="spacingAndGlyphs" transform="rotate(8 104.6 443.6)" letter-spacing="-0.5">WEST</text>
<text x="212" y="451.8" font-family="'Liberation Sans', sans-serif" font-size="10" text-anchor="start" fill="#222" font-weight="bold" font-style="normal" textLength="37.6" lengthAdjust="spacingAndGlyphs" letter-spacing="-0.5">MIDWEST</text>
<text x="331.8" y="452.2" font-family="'Liberation Sans', sans-serif" font-size="10" text-anchor="start" fill="#222" font-weight="bold" font-style="normal" textLength="47.6" lengthAdjust="spacingAndGlyphs" transform="rotate(-6.5 331.8 452.2)" letter-spacing="-0.5">NORTHEAST</text>
<text x="265.3" y="657.8" font-family="'Liberation Sans', sans-serif" font-size="10" text-anchor="start" fill="#222" font-weight="bold" font-style="normal" textLength="27.3" lengthAdjust="spacingAndGlyphs" transform="rotate(-2.5 265.3 657.8)" letter-spacing="-0.5">SOUTH</text>
<text x="41.2" y="497.5" font-family="'Liberation Sans', sans-serif" font-size="6.4" text-anchor="start" fill="#7c7c80" font-weight="bold" font-style="normal" textLength="22.4" lengthAdjust="spacingAndGlyphs" transform="rotate(9 41.2 497.5)" >PACIFIC</text>
<text x="113.3" y="535.6" font-family="'Liberation Sans', sans-serif" font-size="6.4" text-anchor="start" fill="#7c7c80" font-weight="bold" font-style="normal" textLength="30.6" lengthAdjust="spacingAndGlyphs" transform="rotate(4 113.3 535.6)" >MOUNTAIN</text>
<text x="210.6" y="497.5" font-family="'Liberation Sans', sans-serif" font-size="6.4" text-anchor="start" fill="#7c7c80" font-weight="bold" font-style="normal" textLength="17" lengthAdjust="spacingAndGlyphs" >WEST</text>
<text x="208.6" y="502.4" font-family="'Liberation Sans', sans-serif" font-size="6.4" text-anchor="start" fill="#7c7c80" font-weight="bold" font-style="normal" textLength="20.4" lengthAdjust="spacingAndGlyphs" >NORTH</text>
<text x="205.5" y="508.4" font-family="'Liberation Sans', sans-serif" font-size="6.4" text-anchor="start" fill="#7c7c80" font-weight="bold" font-style="normal" textLength="26.1" lengthAdjust="spacingAndGlyphs" >CENTRAL</text>
<text x="277.6" y="512.5" font-family="'Liberation Sans', sans-serif" font-size="6.4" text-anchor="start" fill="#7c7c80" font-weight="bold" font-style="normal" textLength="14.8" lengthAdjust="spacingAndGlyphs" >EAST</text>
<text x="275.3" y="518" font-family="'Liberation Sans', sans-serif" font-size="6.4" text-anchor="start" fill="#7c7c80" font-weight="bold" font-style="normal" textLength="20" lengthAdjust="spacingAndGlyphs" >NORTH</text>
<text x="271.8" y="523.5" font-family="'Liberation Sans', sans-serif" font-size="6.4" text-anchor="start" fill="#7c7c80" font-weight="bold" font-style="normal" textLength="27" lengthAdjust="spacingAndGlyphs" >CENTRAL</text>
<text x="340.4" y="511.8" font-family="'Liberation Sans', sans-serif" font-size="6.4" text-anchor="start" fill="#7c7c80" font-weight="bold" font-style="normal" textLength="22" lengthAdjust="spacingAndGlyphs" transform="rotate(-9 340.4 511.8)" >MIDDLE</text>
<text x="338.4" y="516.3" font-family="'Liberation Sans', sans-serif" font-size="6.4" text-anchor="start" fill="#7c7c80" font-weight="bold" font-style="normal" textLength="28.4" lengthAdjust="spacingAndGlyphs" transform="rotate(-9 338.4 516.3)" >ATLANTIC</text>
<text x="384" y="478.6" font-family="'Liberation Sans', sans-serif" font-size="6.4" text-anchor="start" fill="#7c7c80" font-weight="bold" font-style="normal" textLength="12" lengthAdjust="spacingAndGlyphs" transform="rotate(-20 384 478.6)" >NEW</text>
<text x="375.4" y="486.6" font-family="'Liberation Sans', sans-serif" font-size="6.4" text-anchor="start" fill="#7c7c80" font-weight="bold" font-style="normal" textLength="27" lengthAdjust="spacingAndGlyphs" transform="rotate(-20 375.4 486.6)" >ENGLAND</text>
<text x="323.4" y="582.7" font-family="'Liberation Sans', sans-serif" font-size="6.4" text-anchor="start" fill="#7c7c80" font-weight="bold" font-style="normal" textLength="22" lengthAdjust="spacingAndGlyphs" transform="rotate(-6 323.4 582.7)" >SOUTH</text>
<text x="317.2" y="587.3" font-family="'Liberation Sans', sans-serif" font-size="6.4" text-anchor="start" fill="#7c7c80" font-weight="bold" font-style="normal" textLength="31.3" lengthAdjust="spacingAndGlyphs" transform="rotate(-6 317.2 587.3)" >ATLANTIC</text>
<text x="275.3" y="589.4" font-family="'Liberation Sans', sans-serif" font-size="6.4" text-anchor="start" fill="#7c7c80" font-weight="bold" font-style="normal" textLength="15.5" lengthAdjust="spacingAndGlyphs" >EAST</text>
<text x="273.4" y="594.9" font-family="'Liberation Sans', sans-serif" font-size="6.4" text-anchor="start" fill="#7c7c80" font-weight="bold" font-style="normal" textLength="20.2" lengthAdjust="spacingAndGlyphs" >SOUTH</text>
<text x="269.8" y="600.4" font-family="'Liberation Sans', sans-serif" font-size="6.4" text-anchor="start" fill="#7c7c80" font-weight="bold" font-style="normal" textLength="27.4" lengthAdjust="spacingAndGlyphs" >CENTRAL</text>
<text x="213.5" y="608.9" font-family="'Liberation Sans', sans-serif" font-size="6.4" text-anchor="start" fill="#7c7c80" font-weight="bold" font-style="normal" textLength="16.4" lengthAdjust="spacingAndGlyphs" >WEST</text>
<text x="211.9" y="614.1" font-family="'Liberation Sans', sans-serif" font-size="6.4" text-anchor="start" fill="#7c7c80" font-weight="bold" font-style="normal" textLength="19.6" lengthAdjust="spacingAndGlyphs" >SOUTH</text>
<text x="208" y="619.6" font-family="'Liberation Sans', sans-serif" font-size="6.4" text-anchor="start" fill="#7c7c80" font-weight="bold" font-style="normal" textLength="27.9" lengthAdjust="spacingAndGlyphs" >CENTRAL</text>
<text x="29.2" y="627.5" font-family="'Liberation Sans', sans-serif" font-size="6.4" text-anchor="start" fill="#7c7c80" font-weight="bold" font-style="normal" textLength="21" lengthAdjust="spacingAndGlyphs" >PACIFIC</text>
<text x="126.2" y="652" font-family="'Liberation Sans', sans-serif" font-size="6.4" text-anchor="start" fill="#7c7c80" font-weight="bold" font-style="normal" textLength="22.9" lengthAdjust="spacingAndGlyphs" >PACIFIC</text>
<text x="67" y="457" font-family="'Liberation Sans', sans-serif" font-size="4" text-anchor="middle" fill="#555" font-weight="bold" font-style="normal" >WA</text>
<text x="59" y="488" font-family="'Liberation Sans', sans-serif" font-size="4" text-anchor="middle" fill="#555" font-weight="bold" font-style="normal" >OR</text>
<text x="96.9" y="497.5" font-family="'Liberation Sans', sans-serif" font-size="4" text-anchor="middle" fill="#555" font-weight="bold" font-style="normal" >ID</text>
<text x="131.4" y="475.5" font-family="'Liberation Sans', sans-serif" font-size="4" text-anchor="middle" fill="#555" font-weight="bold" font-style="normal" >MT</text>
<text x="139.6" y="511.6" font-family="'Liberation Sans', sans-serif" font-size="4" text-anchor="middle" fill="#555" font-weight="bold" font-style="normal" >WY</text>
<text x="73.3" y="531" font-family="'Liberation Sans', sans-serif" font-size="4" text-anchor="middle" fill="#555" font-weight="bold" font-style="normal" >NV</text>
<text x="107.8" y="540" font-family="'Liberation Sans', sans-serif" font-size="4" text-anchor="middle" fill="#555" font-weight="bold" font-style="normal" >UT</text>
<text x="148.9" y="549.2" font-family="'Liberation Sans', sans-serif" font-size="4" text-anchor="middle" fill="#555" font-weight="bold" font-style="normal" >CO</text>
<text x="45" y="545" font-family="'Liberation Sans', sans-serif" font-size="4" text-anchor="middle" fill="#555" font-weight="bold" font-style="normal" >CA</text>
<text x="99.6" y="582.2" font-family="'Liberation Sans', sans-serif" font-size="4" text-anchor="middle" fill="#555" font-weight="bold" font-style="normal" >AZ</text>
<text x="139.9" y="588.6" font-family="'Liberation Sans', sans-serif" font-size="4" text-anchor="middle" fill="#555" font-weight="bold" font-style="normal" >NM</text>
<text x="196.3" y="471.8" font-family="'Liberation Sans', sans-serif" font-size="4" text-anchor="middle" fill="#555" font-weight="bold" font-style="normal" >ND</text>
<text x="197" y="498.6" font-family="'Liberation Sans', sans-serif" font-size="4" text-anchor="middle" fill="#555" font-weight="bold" font-style="normal" >SD</text>
<text x="200" y="524.7" font-family="'Liberation Sans', sans-serif" font-size="4" text-anchor="middle" fill="#555" font-weight="bold" font-style="normal" >NE</text>
<text x="208.4" y="552" font-family="'Liberation Sans', sans-serif" font-size="4" text-anchor="middle" fill="#555" font-weight="bold" font-style="normal" >KS</text>
<text x="232.5" y="484.5" font-family="'Liberation Sans', sans-serif" font-size="4" text-anchor="middle" fill="#555" font-weight="bold" font-style="normal" >MN</text>
<text x="240.8" y="519.4" font-family="'Liberation Sans', sans-serif" font-size="4" text-anchor="middle" fill="#555" font-weight="bold" font-style="normal" >IA</text>
<text x="248" y="553" font-family="'Liberation Sans', sans-serif" font-size="4" text-anchor="middle" fill="#555" font-weight="bold" font-style="normal" >MO</text>
<text x="264" y="497.5" font-family="'Liberation Sans', sans-serif" font-size="4" text-anchor="middle" fill="#555" font-weight="bold" font-style="normal" >WI</text>
<text x="296" y="504" font-family="'Liberation Sans', sans-serif" font-size="4" text-anchor="middle" fill="#555" font-weight="bold" font-style="normal" >MI</text>
<text x="269.8" y="535.5" font-family="'Liberation Sans', sans-serif" font-size="4" text-anchor="middle" fill="#555" font-weight="bold" font-style="normal" >IL</text>
<text x="290.5" y="538" font-family="'Liberation Sans', sans-serif" font-size="4" text-anchor="middle" fill="#555" font-weight="bold" font-style="normal" >IN</text>
<text x="313.5" y="529.8" font-family="'Liberation Sans', sans-serif" font-size="4" text-anchor="middle" fill="#555" font-weight="bold" font-style="normal" >OH</text>
<text x="302" y="566.5" font-family="'Liberation Sans', sans-serif" font-size="4" text-anchor="middle" fill="#555" font-weight="bold" font-style="normal" >KY</text>
<text x="296" y="581" font-family="'Liberation Sans', sans-serif" font-size="4" text-anchor="middle" fill="#555" font-weight="bold" font-style="normal" >TN</text>
<text x="272.5" y="612.6" font-family="'Liberation Sans', sans-serif" font-size="4" text-anchor="middle" fill="#555" font-weight="bold" font-style="normal" >MS</text>
<text x="295.4" y="610.6" font-family="'Liberation Sans', sans-serif" font-size="4" text-anchor="middle" fill="#555" font-weight="bold" font-style="normal" >AL</text>
<text x="318.9" y="606" font-family="'Liberation Sans', sans-serif" font-size="4" text-anchor="middle" fill="#555" font-weight="bold" font-style="normal" >GA</text>
<text x="337.6" y="594.4" font-family="'Liberation Sans', sans-serif" font-size="4" text-anchor="middle" fill="#555" font-weight="bold" font-style="normal" >SC</text>
<text x="350.6" y="578" font-family="'Liberation Sans', sans-serif" font-size="4" text-anchor="middle" fill="#555" font-weight="bold" font-style="normal" >NC</text>
<text x="348.5" y="558.6" font-family="'Liberation Sans', sans-serif" font-size="4" text-anchor="middle" fill="#555" font-weight="bold" font-style="normal" >VA</text>
<text x="329.3" y="553.4" font-family="'Liberation Sans', sans-serif" font-size="4" text-anchor="middle" fill="#555" font-weight="bold" font-style="normal" >WV</text>
<text x="335.7" y="637.7" font-family="'Liberation Sans', sans-serif" font-size="4" text-anchor="middle" fill="#555" font-weight="bold" font-style="normal" >FL</text>
<text x="213.2" y="626.9" font-family="'Liberation Sans', sans-serif" font-size="4" text-anchor="middle" fill="#555" font-weight="bold" font-style="normal" >TX</text>
<text x="216.3" y="589.5" font-family="'Liberation Sans', sans-serif" font-size="4" text-anchor="middle" fill="#555" font-weight="bold" font-style="normal" >OK</text>
<text x="252" y="595.3" font-family="'Liberation Sans', sans-serif" font-size="4" text-anchor="middle" fill="#555" font-weight="bold" font-style="normal" >AR</text>
<text x="252.4" y="628.8" font-family="'Liberation Sans', sans-serif" font-size="4" text-anchor="middle" fill="#555" font-weight="bold" font-style="normal" >LA</text>
<text x="362" y="499.4" font-family="'Liberation Sans', sans-serif" font-size="4" text-anchor="middle" fill="#555" font-weight="bold" font-style="normal" >NY</text>
<text x="351" y="521.7" font-family="'Liberation Sans', sans-serif" font-size="4" text-anchor="middle" fill="#555" font-weight="bold" font-style="normal" >PA</text>
<text x="395.8" y="467.5" font-family="'Liberation Sans', sans-serif" font-size="4" text-anchor="middle" fill="#555" font-weight="bold" font-style="normal" >ME</text>
<text x="374" y="524" font-family="'Liberation Sans', sans-serif" font-size="4" text-anchor="middle" fill="#555" font-weight="bold" font-style="normal" >NJ</text>
<text x="374.5" y="540.5" font-family="'Liberation Sans', sans-serif" font-size="4" text-anchor="middle" fill="#555" font-weight="bold" font-style="normal" >DE</text>
<text x="359.5" y="541" font-family="'Liberation Sans', sans-serif" font-size="4" text-anchor="middle" fill="#555" font-weight="bold" font-style="normal" >MD</text>
<text x="354.5" y="547" font-family="'Liberation Sans', sans-serif" font-size="4" text-anchor="middle" fill="#555" font-weight="bold" font-style="normal" >DC</text>
<text x="385.5" y="491" font-family="'Liberation Sans', sans-serif" font-size="4" text-anchor="middle" fill="#555" font-weight="bold" font-style="normal" >NH</text>
<text x="385.5" y="500.5" font-family="'Liberation Sans', sans-serif" font-size="4" text-anchor="middle" fill="#555" font-weight="bold" font-style="normal" >MA</text>
<text x="382.5" y="509" font-family="'Liberation Sans', sans-serif" font-size="4" text-anchor="middle" fill="#555" font-weight="bold" font-style="normal" >CT</text>
<text x="379.3" y="490.5" font-family="'Liberation Sans', sans-serif" font-size="4" text-anchor="middle" fill="#555" font-weight="bold" font-style="normal" >VT</text>
<text x="391.5" y="507.5" font-family="'Liberation Sans', sans-serif" font-size="4" text-anchor="middle" fill="#555" font-weight="bold" font-style="normal" >RI</text>
<text x="72.5" y="641.7" font-family="'Liberation Sans', sans-serif" font-size="4" text-anchor="middle" fill="#555" font-weight="bold" font-style="normal" >AK</text>
<text x="124.8" y="662.5" font-family="'Liberation Sans', sans-serif" font-size="4" text-anchor="middle" fill="#555" font-weight="bold" font-style="normal" >HI</text>
<text x="11.8" y="736.2" font-family="'Liberation Serif', serif" font-size="16" fill="#333" textLength="460.5" lengthAdjust="spacingAndGlyphs"><tspan font-weight="bold">Note:</tspan> 2016: n=8058, 2017: n=7064, 2018: n=4752, 2019: n=8016</text>
<text x="11.8" y="758.2" font-family="'Liberation Serif', serif" font-size="16" fill="#333" textLength="368" lengthAdjust="spacingAndGlyphs"><tspan font-weight="bold">Source:</tspan> ECigIntelligence, CASAA members survey</text>
<defs><mask id="mg"><rect x="620" y="700" width="80" height="70" fill="#000"/><circle cx="661.5" cy="735.4" r="27.2" fill="#fff"/><circle cx="664.6" cy="733.6" r="24.6" fill="#000"/></mask><mask id="mt"><rect x="620" y="700" width="80" height="70" fill="#000"/><circle cx="664.3" cy="736.4" r="26.1" fill="#fff"/><circle cx="661.6" cy="735.8" r="23.4" fill="#000"/></mask></defs>
<rect x="620" y="700" width="80" height="70" fill="#3aaed0" mask="url(#mt)"/>
<rect x="620" y="700" width="80" height="70" fill="#28a87c" mask="url(#mg)"/>
<rect x="649.4" y="719.1" width="25.7" height="25.1" fill="#15305b"/>
<circle cx="662.4" cy="731.7" r="12.2" fill="none" stroke="#3d9fc0" stroke-width="1.6"/>
<path d="M 662.4,719.5 A 12.2,12.2 0 0 1 662.4,743.9" fill="none" stroke="#4fb08a" stroke-width="1.6"/>
<circle cx="662.4" cy="731.7" r="10.8" fill="#1d2d68"/>
<text x="662" y="753.2" font-family="'Liberation Serif', serif" font-size="8.4" text-anchor="middle" fill="#4d5872" font-weight="bold" font-style="normal" textLength="27.7" lengthAdjust="spacingAndGlyphs" >CASAA</text>
<circle cx="723.2" cy="736.6" r="25.7" fill="#2b2766"/>
<circle cx="706.8" cy="732.6" r="11.6" fill="#fff"/>
<circle cx="731.6" cy="736.6" r="8.7" fill="#fff"/>
<circle cx="743.4" cy="748.6" r="3.4" fill="#fff"/>
<text x="760" y="735.8" font-family="'Liberation Serif', serif" font-size="21.7" fill="#3a3a3a" textLength="174.6" lengthAdjust="spacingAndGlyphs">ECig<tspan font-weight="bold">Intelligence</tspan></text>
<text x="760.2" y="751" font-family="'Liberation Serif', serif" font-size="10.3" text-anchor="start" fill="#8a8a8a" font-weight="normal" font-style="italic" textLength="253.4" lengthAdjust="spacingAndGlyphs" >Regulatory and Market Intelligence for the e-Cigarette Sector</text>
</svg>
</div></body></html>
